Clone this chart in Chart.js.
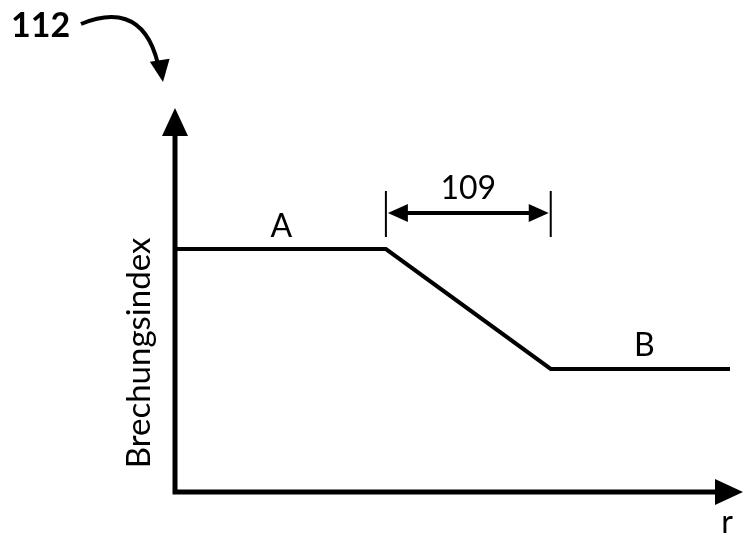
<!DOCTYPE html>
<html>
<head>
<meta charset="utf-8">
<script src="https://cdn.jsdelivr.net/npm/chart.js@4"></script>
<style>
  html, body { margin: 0; padding: 0; background: #fff; }
  #wrap { width: 743px; height: 539px; }
</style>
</head>
<body>
<div id="wrap"><canvas id="chartProfile"></canvas></div>
<script>
// refractive index profile (arbitrary units)
const radius = [0, 38, 67.7, 100];
const index = [67.1, 67.1, 34, 34];
const regionLabels = ['A', 'B'];
const figureLabel = '112';
const widthLabel = '109';
const yTitle = 'Brechungsindex';
const xTitle = 'r';

const FONT = "Lato, 'Open Sans', sans-serif";

function arrowHead(ctx, x, y, dir, len, half) {
  // dir: angle the arrow points to
  ctx.save();
  ctx.translate(x, y);
  ctx.rotate(dir);
  ctx.beginPath();
  ctx.moveTo(0, 0);
  ctx.lineTo(-len, -half);
  ctx.lineTo(-len, half);
  ctx.closePath();
  ctx.fill();
  ctx.restore();
}

const figurePlugin = {
  id: 'figure',
  afterDraw(chart) {
    const { ctx, chartArea, scales } = chart;
    const x = scales.x, y = scales.y;
    const left = chartArea.left, bottom = chartArea.bottom;
    ctx.save();
    ctx.fillStyle = '#000';
    ctx.strokeStyle = '#000';

    // axes
    ctx.lineWidth = 5;
    ctx.beginPath();
    ctx.moveTo(left, bottom);
    ctx.lineTo(left, 130);
    ctx.moveTo(left - 2.5, bottom);
    ctx.lineTo(722, bottom);
    ctx.stroke();
    arrowHead(ctx, left, 108, -Math.PI / 2, 28, 13);
    arrowHead(ctx, 743, bottom, 0, 28, 13);

    // width bracket
    const x1 = x.getPixelForValue(radius[1]);
    const x2 = x.getPixelForValue(radius[2]);
    ctx.lineWidth = 2;
    ctx.beginPath();
    ctx.moveTo(x1, 191); ctx.lineTo(x1, 237);
    ctx.moveTo(x2, 191); ctx.lineTo(x2, 237);
    ctx.stroke();
    ctx.lineWidth = 4;
    ctx.beginPath();
    ctx.moveTo(x1 + 16, 213); ctx.lineTo(x2 - 16, 213);
    ctx.stroke();
    arrowHead(ctx, x1 + 2, 213, Math.PI, 20, 9);
    arrowHead(ctx, x2 - 2, 213, 0, 20, 9);

    // texts
    ctx.textAlign = 'center';
    ctx.textBaseline = 'middle';
    ctx.font = '32px ' + FONT;
    ctx.fillText(widthLabel, (x1 + x2) / 2, 189);
    ctx.fillText(regionLabels[0], (left + x1) / 2 + 1, y.getPixelForValue(index[0]) - 22);
    ctx.fillText(regionLabels[1], (x2 + chartArea.right) / 2 + 4, y.getPixelForValue(index[3]) - 23);
    ctx.fillText(xTitle, 727, 523);

    ctx.save();
    ctx.font = '33px ' + FONT;
    ctx.translate(139, 353);
    ctx.rotate(-Math.PI / 2);
    ctx.fillText(yTitle, 0, 0);
    ctx.restore();

    ctx.font = 'bold 34px ' + FONT;
    ctx.textAlign = 'left';
    ctx.fillText(figureLabel, 11, 26);

    // curved pointer arrow
    ctx.lineWidth = 4;
    ctx.beginPath();
    ctx.moveTo(81, 24);
    ctx.bezierCurveTo(110, 12, 145, 10, 158, 64);
    ctx.stroke();
    arrowHead(ctx, 163, 82, Math.PI / 2 - 0.15, 22, 10);

    ctx.restore();
  }
};

new Chart(document.getElementById('chartProfile'), {
  type: 'line',
  data: {
    datasets: [{
      data: radius.map((r, i) => ({ x: r, y: index[i] })),
      borderColor: '#000',
      borderWidth: 4,
      pointRadius: 0,
      tension: 0,
      fill: false
    }]
  },
  options: {
    responsive: true,
    maintainAspectRatio: false,
    animation: false,
    layout: { padding: { left: 175, right: 13, top: 130, bottom: 47 } },
    plugins: {
      legend: { display: false },
      tooltip: { enabled: false }
    },
    scales: {
      x: { type: 'linear', min: 0, max: 100, display: false },
      y: { min: 0, max: 100, display: false }
    }
  },
  plugins: [figurePlugin]
});
</script>
</body>
</html>
